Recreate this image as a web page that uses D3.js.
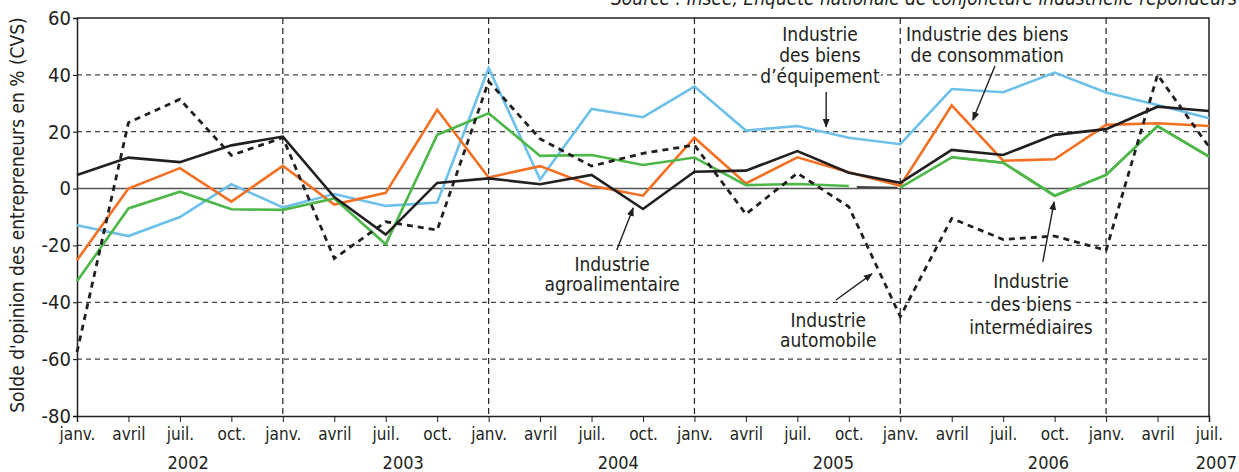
<!DOCTYPE html>
<html>
<head>
<meta charset="utf-8">
<script src="https://cdn.jsdelivr.net/npm/d3@7"></script>
<style>
body { margin: 0; background: #fff; }
svg text { font-family: "Liberation Sans Narrow", "DejaVu Sans Condensed", sans-serif; fill: #231f20; }
</style>
</head>
<body>
<script>
// quarterly tick labels, janv. 2002 -> juil. 2007
var quarters = ["janv.", "avril", "juil.", "oct.", "janv.", "avril", "juil.", "oct.",
                "janv.", "avril", "juil.", "oct.", "janv.", "avril", "juil.", "oct.",
                "janv.", "avril", "juil.", "oct.", "janv.", "avril", "juil."];
var years = ["2002", "2003", "2004", "2005", "2006", "2007"];
var yTicks = [-80, -60, -40, -20, 0, 20, 40, 60];

// soldes d'opinion (CVS)
var agro   = [4.8, 10.9, 9.3, 15.2, 18.3, -3, -16.2, 2.0, 3.6, 1.5, 4.8, -7.2, 5.9, 6.3, 13.2, 5.6, 2.0, 13.6, 11.8, 18.9, 20.9, 28.8, 27.3];
var conso  = [-25.2, 0, 7.2, -4.6, 8.0, -5.6, -1.5, 27.7, 3.9, 7.9, 1.0, -2.5, 17.9, 1.8, 11.0, 5.7, 1.0, 29.3, 9.8, 10.3, 22.4, 23.0, 22.0];
var inter  = [-32.6, -7.0, -1.1, -7.3, -7.5, -3.5, -19.6, 18.9, 26.5, 11.5, 11.8, 8.3, 10.9, 1.2, 1.6, 0.9, 0.3, 11.0, 9.1, -2.5, 4.8, 22.0, 11.2];
var equip  = [-12.9, -16.7, -10.0, 1.5, -6.6, -1.9, -6.1, -4.9, 42.4, 3.2, 28.0, 25.1, 35.9, 20.4, 22.0, 17.9, 15.6, 35.0, 33.9, 40.8, 33.8, 29.4, 24.7];
var auto   = [-57.5, 23.2, 31.4, 11.7, 17.9, -24.6, -11.7, -14.6, 37.7, 17.5, 7.9, 12.4, 15.3, -9.0, 5.4, -6.4, -45, -10.5, -17.9, -16.7, -21.7, 40.0, 14.7];

var width = 1239, height = 472;

var svg = d3.select("body").append("svg")
    .attr("width", width)
    .attr("height", height);

var x = d3.scaleLinear()
    .domain([0, quarters.length - 1])
    .range([77, 1209]);

var y = d3.scaleLinear()
    .domain([-80, 60])
    .range([416, 18]);

// grid
svg.append("g").selectAll("line")
    .data(yTicks.filter(d => d != 0 && d != -80 && d != 60))
    .enter().append("line")
    .attr("x1", x(0)).attr("x2", x(22))
    .attr("y1", d => y(d)).attr("y2", d => y(d))
    .attr("stroke", "#444").attr("stroke-width", 1.2)
    .attr("stroke-dasharray", "5,4");

svg.append("g").selectAll("line")
    .data([4, 8, 12, 16, 20])
    .enter().append("line")
    .attr("x1", d => x(d)).attr("x2", d => x(d))
    .attr("y1", y(60)).attr("y2", y(-80))
    .attr("stroke", "#222").attr("stroke-width", 1.2)
    .attr("stroke-dasharray", "6,4");

svg.append("line")
    .attr("x1", x(0)).attr("x2", x(22))
    .attr("y1", y(0)).attr("y2", y(0))
    .attr("stroke", "#555").attr("stroke-width", 1.4);

// frame top / right
svg.append("path")
    .attr("d", `M${x(0)},${y(60)}H${x(22)}V${y(-80)}`)
    .attr("fill", "none").attr("stroke", "#231f20").attr("stroke-width", 1.5);

// axes
var y_axis = d3.axisLeft(y).tickValues(yTicks).tickFormat(d => String(d)).tickSize(4).tickPadding(2);
var gy = svg.append("g").attr("transform", `translate(${x(0)},0)`).call(y_axis);
gy.select(".domain").attr("stroke", "#231f20").attr("stroke-width", 1.5);
gy.selectAll("text").style("font-size", "20px");

var x_axis = d3.axisBottom(x).tickValues(d3.range(quarters.length))
    .tickFormat(i => quarters[i]).tickSize(6).tickPadding(6);
var gx = svg.append("g").attr("transform", `translate(0,${y(-80)})`).call(x_axis);
gx.select(".domain").attr("stroke", "#231f20").attr("stroke-width", 1.5);
gx.selectAll("text").style("font-size", "17px");
gx.selectAll(".tick line").attr("stroke", "#231f20");

svg.append("g").selectAll("text")
    .data(years.slice(0, 5))
    .enter().append("text")
    .attr("x", (d, k) => x(2.16 + k * 4.18))
    .attr("y", 469)
    .attr("text-anchor", "middle")
    .style("font-size", "18px")
    .text(d => d);

svg.append("text")
    .attr("x", 1237).attr("y", 469)
    .attr("text-anchor", "end")
    .style("font-size", "18px")
    .text(years[5]);

svg.append("text")
    .attr("transform", "rotate(-90)")
    .attr("x", -215).attr("y", 24)
    .attr("text-anchor", "middle")
    .style("font-size", "19px")
    .text("Solde d'opinion des entrepreneurs en % (CVS)");

svg.append("text")
    .attr("x", 1237).attr("y", 5)
    .attr("text-anchor", "end")
    .style("font-size", "19px").style("font-style", "italic")
    .text("Source : Insee, Enquête nationale de conjoncture industrielle répondeurs");

// series
var line = d3.line().x((d, i) => x(i)).y(d => y(d));
var lineDef = d3.line().defined(d => d != null).x((d, i) => x(i)).y(d => y(d));

function draw(values, color, dash, gen) {
  svg.append("path")
    .attr("d", (gen || line)(values))
    .attr("fill", "none")
    .attr("stroke", color)
    .attr("stroke-width", dash ? 2.8 : 2.6)
    .attr("stroke-linejoin", "miter")
    .attr("stroke-dasharray", dash || null);
}

draw(equip, "#6cc0ea");
draw(conso, "#f36f21");
// green: gap between oct. 2005 and janv. 2006 drawn dark
draw(inter.map((d, i) => i == 16 ? null : d), "#4db849", null, lineDef);
draw(inter.map((d, i) => i >= 16 ? d : null), "#4db849", null, lineDef);
svg.append("line")
    .attr("x1", x(15) + 8).attr("x2", x(16) - 3)
    .attr("y1", y(inter[15]) + 1).attr("y2", y(inter[16]))
    .attr("stroke", "#444").attr("stroke-width", 2);
draw(agro, "#231f20");
draw(auto, "#231f20", "6,5");

// annotations (quarter index, value)
var marker = svg.append("defs").append("marker")
    .attr("id", "arrow").attr("viewBox", "0 0 10 10")
    .attr("refX", 9).attr("refY", 5)
    .attr("markerWidth", 9).attr("markerHeight", 9)
    .attr("markerUnits", "userSpaceOnUse")
    .attr("orient", "auto");
marker.append("path").attr("d", "M0,1L10,5L0,9z").attr("fill", "#231f20");

var labels = [
  {lines: ["Industrie", "des biens", "d\u2019équipement"], at: [[14.44, 52.0], [14.44, 44.6], [14.44, 37.1]], arrow: [[14.56, 34.0], [14.56, 21.7]]},
  {lines: ["Industrie des biens", "de consommation"], at: [[17.69, 52.0], [17.69, 44.5]], arrow: [[17.84, 43.1], [17.41, 24.1]]},
  {lines: ["Industrie", "agroalimentaire"], at: [[10.40, -28.9], [10.40, -35.9]], arrow: [[10.49, -21.6], [10.81, -6.8]]},
  {lines: ["Industrie", "automobile"], at: [[14.6, -48.7], [14.6, -55.7]], arrow: [[14.75, -39.2], [15.45, -30.0]]},
  {lines: ["Industrie", "des biens", "intermédiaires"], at: [[18.54, -35.0], [18.54, -43.1], [18.54, -51.1]], arrow: [[18.77, -25.8], [18.99, -4.7]]}
];

labels.forEach(function(l) {
  var t = svg.append("text")
      .attr("text-anchor", "middle")
      .style("font-size", "19px")
      .style("stroke", "#fff").style("stroke-width", 4).style("paint-order", "stroke");
  l.lines.forEach(function(s, k) {
    t.append("tspan")
      .attr("x", x(l.at[k][0])).attr("y", y(l.at[k][1]))
      .text(s);
  });
  svg.append("line")
    .attr("x1", x(l.arrow[0][0])).attr("y1", y(l.arrow[0][1]))
    .attr("x2", x(l.arrow[1][0])).attr("y2", y(l.arrow[1][1]))
    .attr("stroke", "#231f20").attr("stroke-width", 1.4)
    .attr("marker-end", "url(#arrow)");
});
</script>
</body>
</html>
